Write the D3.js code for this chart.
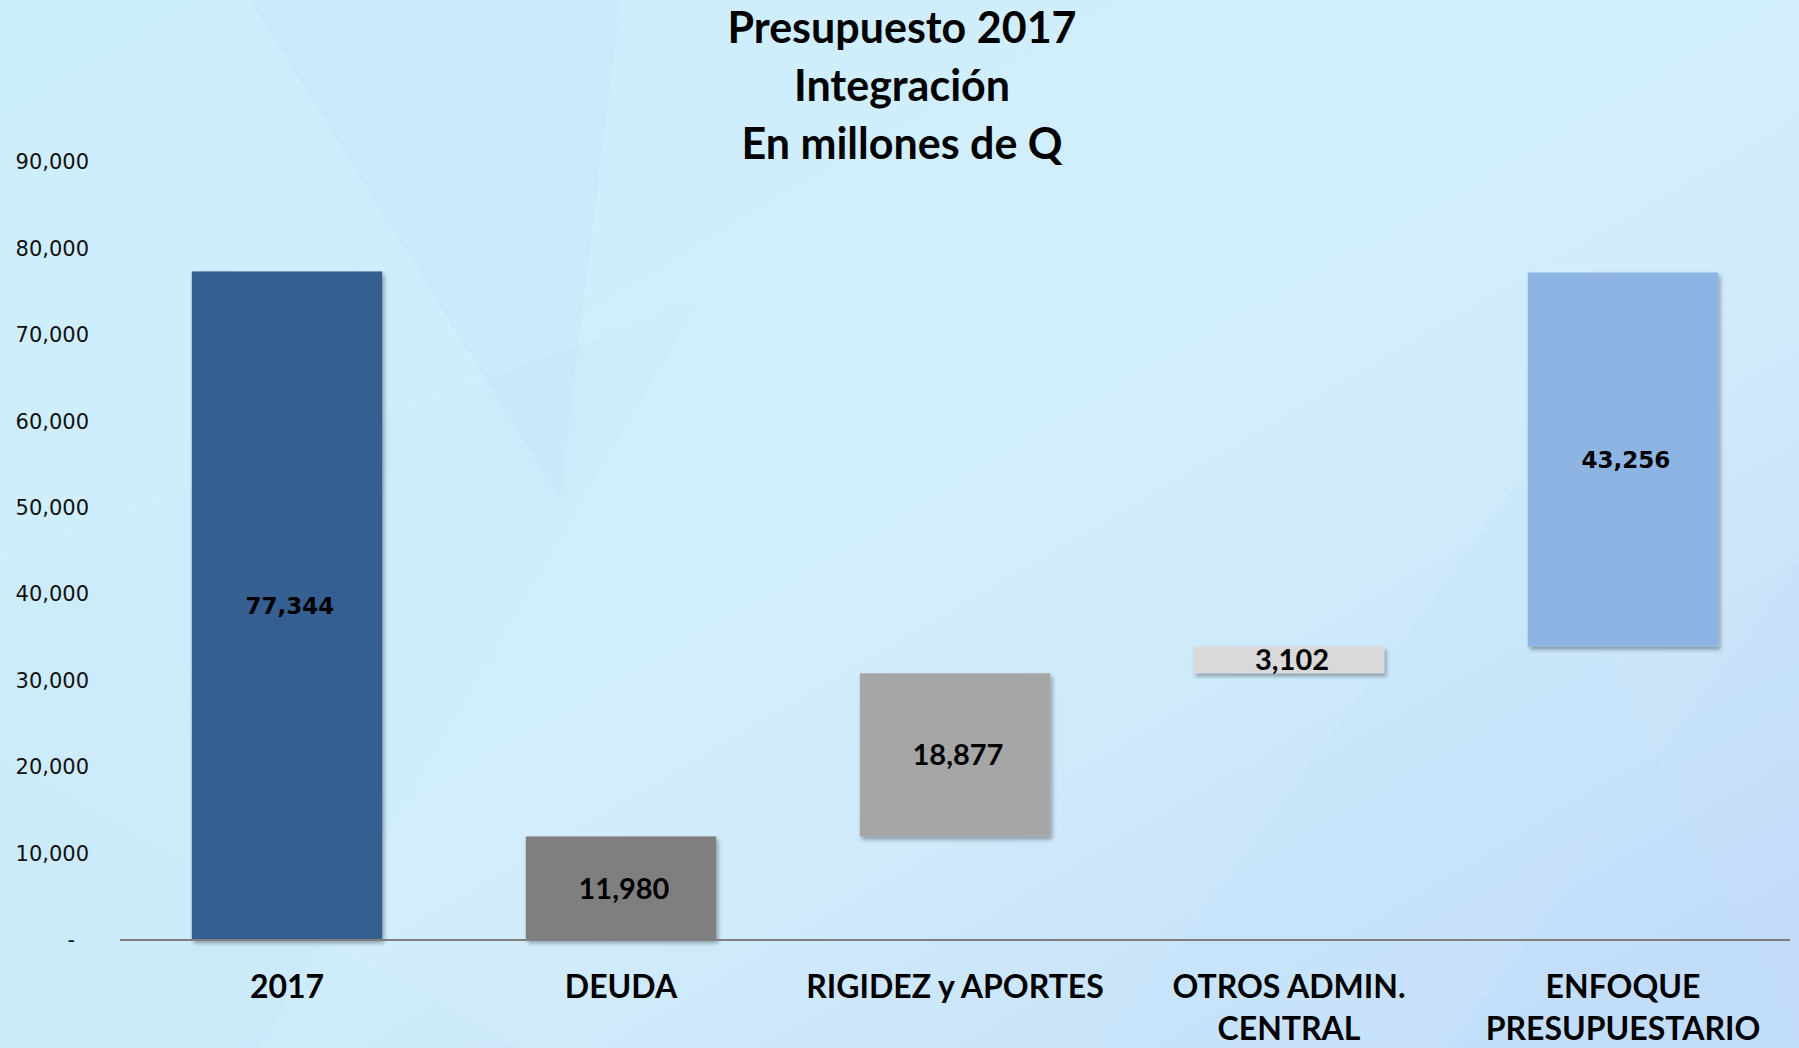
<!DOCTYPE html>
<meta charset="utf-8">
<style>
  body { margin: 0; }
  .tick text { font-family: "DejaVu Sans", Verdana, sans-serif; font-size: 21px; fill: #111; }
  .title { font-family: Lato, "Open Sans", sans-serif; font-weight: 700; font-size: 43px; fill: #000; }
  .cat { font-family: Lato, "Open Sans", sans-serif; font-weight: 700; font-size: 32px; fill: #000; }
</style>
<body>
<div id="chart"></div>
<script src="https://d3js.org/d3.v7.min.js"></script>
<script>
  // chart data
  var categories = ["2017", "DEUDA", "RIGIDEZ y APORTES", "OTROS ADMIN. CENTRAL", "ENFOQUE PRESUPUESTARIO"];
  var catLines = [["2017"], ["DEUDA"], ["RIGIDEZ y APORTES"], ["OTROS ADMIN.", "CENTRAL"], ["ENFOQUE", "PRESUPUESTARIO"]];
  var values = [77344, 11980, 18877, 3102, 43256];
  var colors = ["#365f91", "#7f7f7f", "#a6a6a6", "#d9d9d9", "#8eb4e3"];
  var labelFonts = ["verdana", "calibri", "calibri", "calibri", "verdana"];
  var yTicks = [0, 10000, 20000, 30000, 40000, 50000, 60000, 70000, 80000, 90000];
  var titleLines = ["Presupuesto 2017", "Integración", "En millones de Q"];

  var W = 1799, H = 1048;

  // waterfall: first bar from zero, the rest stacked on the running total
  var rows = [];
  var running = 0;
  values.forEach(function (v, i) {
    var base = i === 0 ? 0 : running;
    if (i > 0) running += v;
    rows.push({ cat: categories[i], lines: catLines[i], value: v, base: base, color: colors[i], font: labelFonts[i] });
  });

  var x = d3.scaleBand().domain(categories).range([120, 1790]).paddingInner(0.43).paddingOuter(0.215);
  var y = d3.scaleLinear().domain([0, 90000]).range([940, 162]);

  var svg = d3.select("#chart").append("svg")
    .attr("width", W).attr("height", H);

  var defs = svg.append("defs");
  var bg = defs.append("linearGradient").attr("id", "bg")
    .attr("x1", "0").attr("y1", "0").attr("x2", "1").attr("y2", "1");
  bg.append("stop").attr("offset", "0").attr("stop-color", "#cdeefd");
  bg.append("stop").attr("offset", "0.55").attr("stop-color", "#d2eefc");
  bg.append("stop").attr("offset", "1").attr("stop-color", "#c3dcf8");

  var shadow = defs.append("filter").attr("id", "shadow")
    .attr("x", "-10%").attr("y", "-10%").attr("width", "130%").attr("height", "130%");
  shadow.append("feDropShadow").attr("dx", 2).attr("dy", 3).attr("stdDeviation", 2)
    .attr("flood-color", "#000").attr("flood-opacity", 0.35);

  svg.append("rect").attr("width", W).attr("height", H).attr("fill", "url(#bg)");

  // faint background facets
  var facets = [
    [[0, 560], [700, 300], [260, 1048], [0, 1048]],
    [[250, 0], [620, 0], [560, 500]],
    [[1100, 1048], [1520, 480], [1799, 1048]],
    [[1450, 1048], [1799, 560], [1799, 1048]],
    [[0, 760], [520, 1048], [0, 1048]]
  ];
  svg.append("g").selectAll("polygon").data(facets).join("polygon")
    .attr("points", function (d) { return d.join(" "); })
    .attr("fill", function (d, i) { return i % 2 ? "#bcd8fa" : "#c2e6fb"; })
    .attr("opacity", 0.18);

  // y axis
  var yAxis = d3.axisLeft(y).tickValues(yTicks).tickSize(0).tickPadding(0)
    .tickFormat(function (d) { return d === 0 ? "-" : d3.format(",")(d); });
  var gy = svg.append("g").attr("transform", "translate(89,0)").call(yAxis);
  gy.select(".domain").remove();
  gy.selectAll(".tick text").filter(function (d) { return d === 0; }).attr("dx", -14);

  // bars
  svg.append("g").selectAll("rect").data(rows).join("rect")
    .attr("x", function (d) { return x(d.cat); })
    .attr("width", x.bandwidth())
    .attr("y", function (d) { return y(d.base + d.value); })
    .attr("height", function (d) { return y(d.base) - y(d.base + d.value); })
    .attr("fill", function (d) { return d.color; })
    .attr("filter", "url(#shadow)");

  // x axis line
  svg.append("line").attr("x1", 120).attr("x2", 1790).attr("y1", y(0)).attr("y2", y(0))
    .attr("stroke", "#7f7f7f").attr("stroke-width", 2);

  // value labels
  svg.append("g").selectAll("text").data(rows).join("text")
    .attr("x", function (d) { return x(d.cat) + x.bandwidth() / 2 + 3; })
    .attr("y", function (d) { return y(d.base + d.value / 2); })
    .attr("dy", "0.36em")
    .attr("text-anchor", "middle")
    .attr("font-weight", 700)
    .attr("font-family", function (d) { return d.font === "verdana" ? "'DejaVu Sans', Verdana, sans-serif" : "Lato, sans-serif"; })
    .attr("font-size", function (d) { return d.font === "verdana" ? 23 : 29; })
    .text(function (d) { return d3.format(",")(d.value); });

  // category labels
  var cats = svg.append("g").selectAll("text").data(rows).join("text")
    .attr("class", "cat")
    .attr("text-anchor", "middle")
    .attr("x", function (d) { return x(d.cat) + x.bandwidth() / 2; })
    .attr("y", 998);
  cats.selectAll("tspan").data(function (d) { return d.lines; }).join("tspan")
    .attr("x", function () { var p = d3.select(this.parentNode).datum(); return x(p.cat) + x.bandwidth() / 2; })
    .attr("dy", function (d, i) { return i ? 42 : 0; })
    .text(function (d) { return d; });

  // title
  svg.append("text").attr("class", "title").attr("text-anchor", "middle")
    .selectAll("tspan").data(titleLines).join("tspan")
    .attr("x", 902)
    .attr("y", function (d, i) { return 43 + i * 58; })
    .text(function (d) { return d; });
</script>
</body>
